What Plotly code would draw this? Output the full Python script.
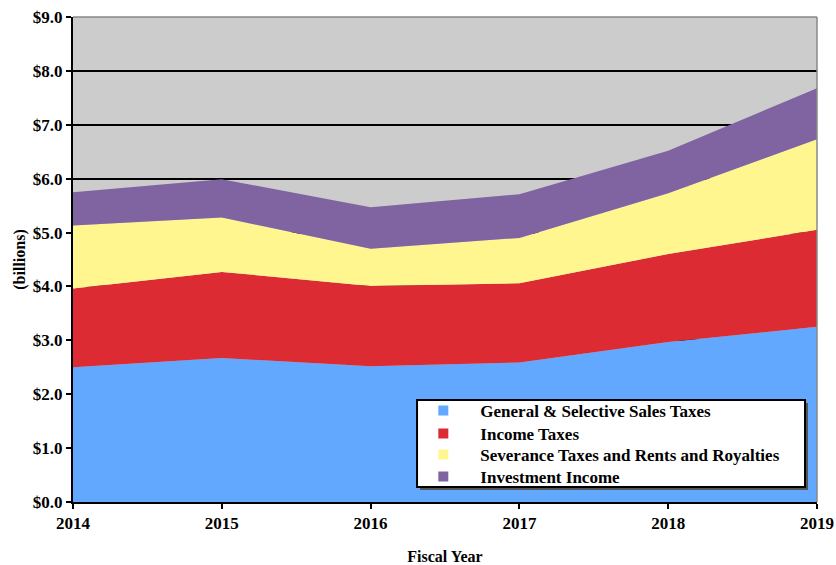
import plotly.graph_objects as go

years = [2014, 2015, 2016, 2017, 2018, 2019]
sales_taxes = [2.50, 2.67, 2.52, 2.59, 2.97, 3.25]
income_taxes = [1.46, 1.60, 1.49, 1.47, 1.63, 1.80]
severance = [1.17, 1.01, 0.69, 0.84, 1.13, 1.68]
investment = [0.62, 0.71, 0.77, 0.81, 0.79, 0.95]

names = ["General & Selective Sales Taxes", "Income Taxes",
         "Severance Taxes and Rents and Royalties", "Investment Income"]
colors = ["#61A8FE", "#DC2B33", "#FFF68F", "#8064A2"]
series = [sales_taxes, income_taxes, severance, investment]

FONT = "Liberation Serif, Times New Roman, serif"

fig = go.Figure()

# stacked areas
for name, vals, c in zip(names, series, colors):
    fig.add_trace(go.Scatter(
        x=years, y=vals, name=name, stackgroup="one", mode="lines",
        line=dict(width=0, color=c), fillcolor=c, showlegend=False,
        hoverinfo="x+y+name"))

# one legend per row so the spacing can match the original box
legend_ids = ["legend", "legend2", "legend3", "legend4"]
row_y = [0.1876, 0.1402, 0.0969, 0.0515]
for name, c, lid in zip(names, colors, legend_ids):
    fig.add_trace(go.Scatter(
        x=[None], y=[None], name=name, mode="markers", legend=lid,
        marker=dict(symbol="square", size=10, color=c), showlegend=True))

legend_style = dict(
    x=0.448, xanchor="left", yanchor="middle",
    bgcolor="rgba(0,0,0,0)", borderwidth=0, itemwidth=64,
    font=dict(family=FONT, size=17, color="black", weight="bold"),
)
fig.update_layout({lid: dict(legend_style, y=y) for lid, y in zip(legend_ids, row_y)})

# legend box with shadow
fig.add_shape(type="rect", xref="paper", yref="paper",
              x0=0.4664, x1=0.9879, y0=0.0247, y1=0.2041,
              fillcolor="#555555", line=dict(width=0), layer="above")
fig.add_shape(type="rect", xref="paper", yref="paper",
              x0=0.4624, x1=0.9839, y0=0.0309, y1=0.2103,
              fillcolor="white", line=dict(color="black", width=2), layer="above")
# top/right plot border
fig.add_shape(type="line", xref="paper", yref="paper", x0=0, x1=1, y0=1, y1=1,
              line=dict(color="#888888", width=1.5), layer="above")
fig.add_shape(type="line", xref="paper", yref="paper", x0=1, x1=1, y0=0, y1=1,
              line=dict(color="#888888", width=1.5), layer="above")

fig.update_layout(
    width=836, height=565,
    margin=dict(l=73, r=19, t=17, b=63),
    paper_bgcolor="white", plot_bgcolor="#CCCCCC",
    font=dict(family=FONT, size=16, color="black", weight="bold"),
)

fig.update_xaxes(
    range=[2014, 2019], tickvals=years, ticktext=[str(y) for y in years],
    showgrid=False, zeroline=False, automargin=False,
    showline=True, linecolor="black", linewidth=2,
    ticks="outside", ticklen=5, tickcolor="black", tickwidth=1.5,
    tickfont=dict(family=FONT, size=17, weight="bold"),
    title=dict(text="Fiscal Year", standoff=21,
               font=dict(family=FONT, size=16, weight="bold")),
)
fig.update_yaxes(
    range=[0, 9], dtick=1, tickprefix="$", tickformat=".1f",
    showgrid=True, gridcolor="black", gridwidth=1.5, zeroline=False,
    automargin=False,
    showline=True, linecolor="black", linewidth=2,
    ticks="outside", ticklen=5, tickcolor="black", tickwidth=1.5,
    tickfont=dict(family=FONT, size=17, weight="bold"),
    title=dict(text="(billions)", standoff=3,
               font=dict(family=FONT, size=16, weight="bold")),
)

fig.write_html("out.html", config={"displayModeBar": False},
               post_script="document.body.style.margin='0px';"
                           "document.body.style.overflow='hidden';")
